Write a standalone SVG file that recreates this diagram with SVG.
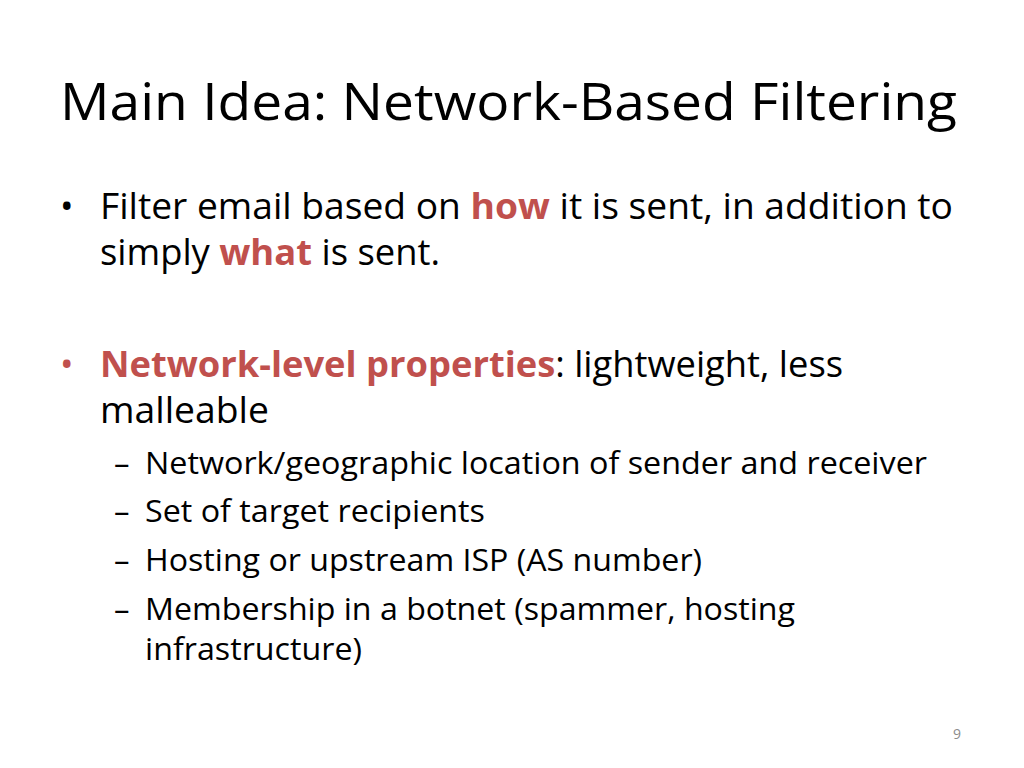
<svg xmlns="http://www.w3.org/2000/svg" width="1024" height="768" viewBox="0 0 1024 768">
<style>
text{font-family:"Open Sans","Liberation Sans",sans-serif;fill:#000}
.b{font-size:36px}
.s{font-size:31px}
.r{fill:#C0504D;font-weight:bold}
</style>
<rect width="1024" height="768" fill="#fff"/>
<text x="60" y="120" font-size="52" textLength="897" lengthAdjust="spacingAndGlyphs">Main Idea: Network-Based Filtering</text>
<text x="60" y="219" class="b">•</text>
<text x="100" y="219" class="b" textLength="853" lengthAdjust="spacingAndGlyphs">Filter email based on <tspan class="r">how</tspan> it is sent, in addition to</text>
<text x="100" y="265" class="b" textLength="340" lengthAdjust="spacingAndGlyphs">simply <tspan class="r">what</tspan> is sent.</text>
<text x="60" y="377" class="b" style="fill:#C0504D">•</text>
<text x="100" y="377" class="b" textLength="743" lengthAdjust="spacingAndGlyphs"><tspan class="r">Network-level properties</tspan>: lightweight, less</text>
<text x="100" y="423" class="b" textLength="169" lengthAdjust="spacingAndGlyphs">malleable</text>
<g class="s">
<text x="114" y="474" class="s">–</text>
<text x="145" y="474" class="s" textLength="782" lengthAdjust="spacingAndGlyphs">Network/geographic location of sender and receiver</text>
<text x="114" y="522" class="s">–</text>
<text x="145" y="522" class="s" textLength="340" lengthAdjust="spacingAndGlyphs">Set of target recipients</text>
<text x="114" y="571" class="s">–</text>
<text x="145" y="571" class="s" textLength="557" lengthAdjust="spacingAndGlyphs">Hosting or upstream ISP (AS number)</text>
<text x="114" y="620" class="s">–</text>
<text x="145" y="620" class="s" textLength="650" lengthAdjust="spacingAndGlyphs">Membership in a botnet (spammer, hosting</text>
<text x="145" y="660" class="s" textLength="217" lengthAdjust="spacingAndGlyphs">infrastructure)</text>
</g>
<text x="953" y="739" font-size="14" style="fill:#8c8c8c">9</text>
</svg>
